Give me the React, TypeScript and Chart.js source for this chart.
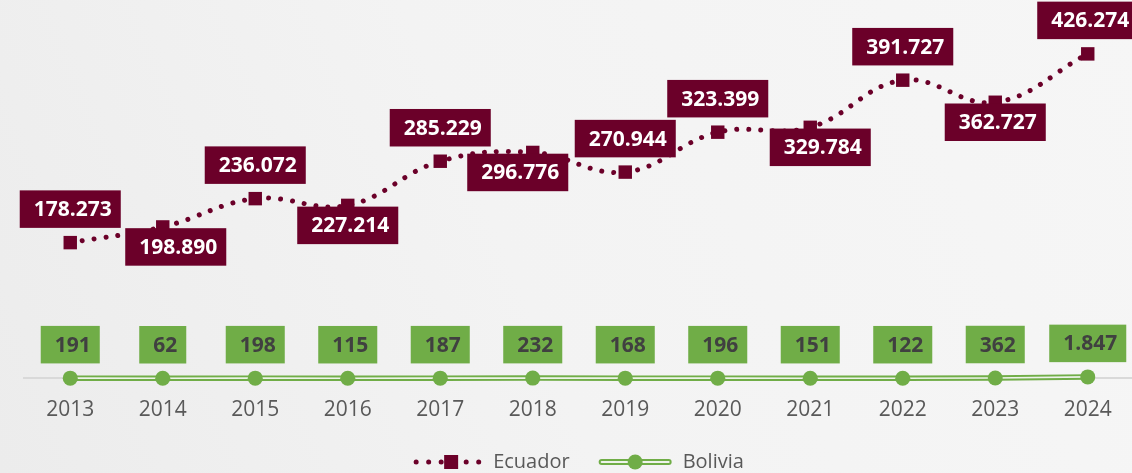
import { useEffect, useRef } from "react";
import { Chart, registerables } from "chart.js";

Chart.register(...registerables);

const years = ["2013", "2014", "2015", "2016", "2017", "2018", "2019", "2020", "2021", "2022", "2023", "2024"];
const ecuador = [178273, 198890, 236072, 227214, 285229, 296776, 270944, 323399, 329784, 391727, 362727, 426274];
const bolivia = [191, 62, 198, 115, 187, 232, 168, 196, 151, 122, 362, 1847];
const ecuadorLabelSide = ["above", "below", "above", "below", "above", "below", "above", "above", "below", "above", "below", "above"];
const ecuadorLabelShift = [0, 13, 0, 0, 0, -15, 0, 0, 10, 0, 0, 0];
const seriesNames = ["Ecuador", "Bolivia"];

const MAROON = "#6B0029";
const GREEN = "#70AD47";
const INNER = "#EEF3EA";
const TEXT_GRAY = "#595959";
const FONT = "'Open Sans', 'Noto Sans', sans-serif";

function fmt(v: number): string {
  return String(v).replace(/\B(?=(\d{3})+(?!\d))/g, ".");
}

const backgroundPlugin = {
  id: "bg",
  beforeDraw(chart: any) {
    const { ctx, width, height } = chart;
    ctx.save();
    const g = ctx.createLinearGradient(width, 0, 0, height);
    g.addColorStop(0, "#F6F6F6");
    g.addColorStop(0.55, "#F3F3F3");
    g.addColorStop(1, "#ECECEC");
    ctx.fillStyle = g;
    ctx.fillRect(0, 0, width, height);
    ctx.restore();
  },
};

const labelPlugin = {
  id: "boxLabels",
  afterDatasetsDraw(chart: any) {
    const ctx = chart.ctx;
    const H = 37.5;
    const drawBox = (x: number, y: number, text: string, fill: string, color: string) => {
      ctx.font = `bold 21px ${FONT}`;
      const tw = ctx.measureText(text).width;
      const w = tw + 23;
      ctx.fillStyle = fill;
      ctx.fillRect(x - w / 2, y - H / 2, w, H);
      ctx.fillStyle = color;
      ctx.textAlign = "center";
      ctx.textBaseline = "middle";
      ctx.fillText(text, x + 2.5, y + 1);
    };
    ctx.save();
    const eMeta = chart.getDatasetMeta(0);
    eMeta.data.forEach((pt: any, i: number) => {
      const above = ecuadorLabelSide[i] === "above";
      const dy = above ? -33.5 : 20;
      drawBox(pt.x + ecuadorLabelShift[i], pt.y + dy, fmt(ecuador[i]), MAROON, "#FFFFFF");
    });
    const bMeta = chart.getDatasetMeta(1);
    bMeta.data.forEach((pt: any, i: number) => {
      drawBox(pt.x, pt.y - 33.5, fmt(bolivia[i]), GREEN, "#404040");
    });
    ctx.restore();
  },
};

const legendPlugin = {
  id: "customLegend",
  afterDraw(chart: any) {
    const ctx = chart.ctx;
    const y = 462;
    ctx.save();
    ctx.font = `20px ${FONT}`;
    const w1 = ctx.measureText(seriesNames[0]).width;
    const w2 = ctx.measureText(seriesNames[1]).width;
    const m1 = 67;
    const m2 = 73;
    const total = m1 + 12 + w1 + 29 + m2 + 11 + w2;
    const cx = (chart.chartArea.left + chart.chartArea.right) / 2;
    let x = cx - total / 2;
    ctx.strokeStyle = MAROON;
    ctx.lineWidth = 5;
    ctx.lineCap = "round";
    ctx.setLineDash([0.01, 12.5]);
    ctx.beginPath();
    ctx.moveTo(x + 2, y);
    ctx.lineTo(x + m1, y);
    ctx.stroke();
    ctx.setLineDash([]);
    ctx.fillStyle = MAROON;
    ctx.fillRect(x + 30, y - 7, 14, 14);
    x += m1 + 12;
    ctx.fillStyle = TEXT_GRAY;
    ctx.textAlign = "left";
    ctx.textBaseline = "middle";
    ctx.fillText(seriesNames[0], x, y);
    x += w1 + 29;
    ctx.lineCap = "round";
    ctx.strokeStyle = GREEN;
    ctx.lineWidth = 6;
    ctx.beginPath();
    ctx.moveTo(x + 3, y);
    ctx.lineTo(x + m2 - 3, y);
    ctx.stroke();
    ctx.strokeStyle = INNER;
    ctx.lineWidth = 2;
    ctx.beginPath();
    ctx.moveTo(x + 3, y);
    ctx.lineTo(x + m2 - 3, y);
    ctx.stroke();
    ctx.fillStyle = GREEN;
    ctx.beginPath();
    ctx.arc(x + m2 / 2, y, 7.5, 0, Math.PI * 2);
    ctx.fill();
    x += m2 + 11;
    ctx.fillStyle = TEXT_GRAY;
    ctx.fillText(seriesNames[1], x, y);
    ctx.restore();
  },
};

export default function App() {
  const ref = useRef<HTMLCanvasElement | null>(null);

  useEffect(() => {
    if (!ref.current) return;
    const chart = new Chart(ref.current, {
      type: "line",
      data: {
        labels: years,
        datasets: [
          {
            label: seriesNames[0],
            data: ecuador,
            borderColor: MAROON,
            backgroundColor: MAROON,
            borderWidth: 5,
            borderDash: [0.01, 12],
            borderCapStyle: "round",
            tension: 0.4,
            pointStyle: "rect",
            pointRadius: 9.5,
            pointBorderWidth: 0,
            pointBackgroundColor: MAROON,
            fill: false,
            clip: false,
            order: 0,
          } as any,
          {
            label: seriesNames[1],
            data: bolivia,
            showLine: false,
            pointStyle: "circle",
            pointRadius: 7.5,
            pointBorderWidth: 0,
            pointBackgroundColor: GREEN,
            borderColor: GREEN,
            clip: false,
            order: 1,
          } as any,
          {
            label: seriesNames[1] + " inner",
            data: bolivia,
            borderColor: INNER,
            borderWidth: 1.6,
            pointRadius: 0,
            tension: 0,
            fill: false,
            clip: false,
            order: 2,
          } as any,
          {
            label: seriesNames[1] + " outer",
            data: bolivia,
            borderColor: GREEN,
            borderWidth: 5.5,
            pointRadius: 0,
            tension: 0,
            fill: false,
            clip: false,
            order: 3,
          } as any,
        ],
      },
      options: {
        responsive: true,
        maintainAspectRatio: false,
        devicePixelRatio: 1,
        animation: false,
        events: [],
        layout: { autoPadding: false, padding: { left: 24, right: 0, top: 13, bottom: 31.5 } },
        plugins: {
          legend: { display: false },
          tooltip: { enabled: false },
        },
        scales: {
          x: {
            offset: true,
            grid: { display: false, drawTicks: false },
            border: { display: true, color: "#D9D9D9", width: 2 },
            ticks: {
              color: TEXT_GRAY,
              font: { family: FONT, size: 21 },
              padding: 19,
              maxRotation: 0,
              autoSkip: false,
            },
            afterFit(scale: any) {
              scale.paddingLeft = 0;
              scale.paddingRight = 0;
            },
          } as any,
          y: {
            display: false,
            min: 0,
            max: 480000,
          },
        },
      },
      plugins: [backgroundPlugin, labelPlugin, legendPlugin],
    });
    return () => chart.destroy();
  }, []);

  return (
    <div style={{ position: "fixed", left: 0, top: 0, width: 1132, height: 473, overflow: "hidden" }}>
      <div style={{ position: "relative", width: 1134, height: 473 }}>
        <canvas ref={ref} />
      </div>
    </div>
  );
}
